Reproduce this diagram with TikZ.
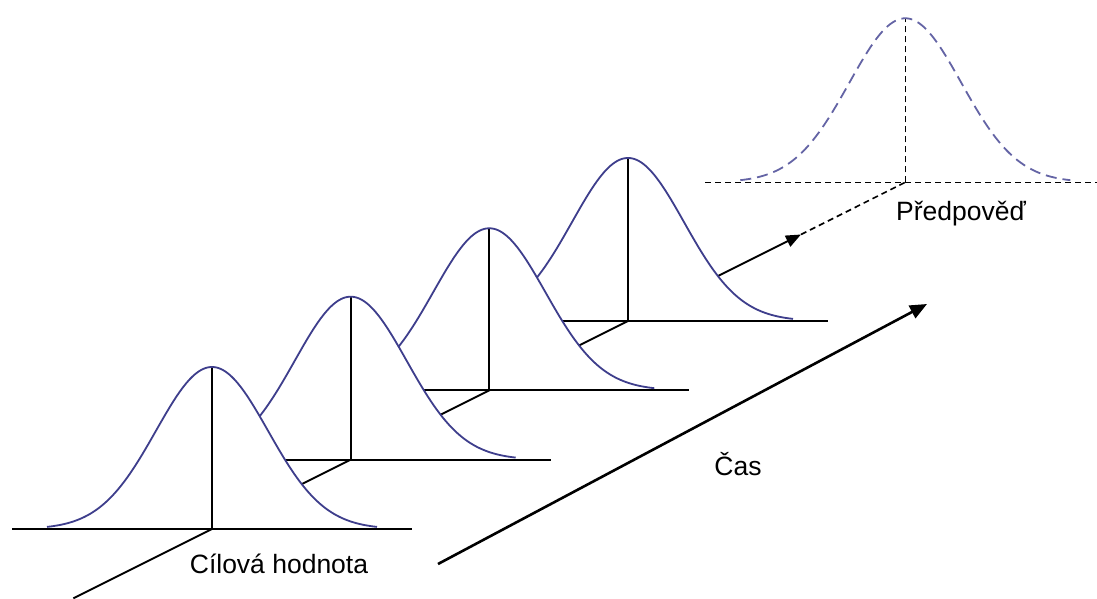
\documentclass[tikz,border=0pt]{standalone}
\usepackage{fontspec}
\setmainfont{Liberation Sans}
\usetikzlibrary{arrows.meta}
\definecolor{curveblue}{RGB}{62,62,140}
\definecolor{predblue}{RGB}{100,100,165}
\begin{document}
\begin{tikzpicture}[x=1pt,y=-1pt,
  gcurve/.style={draw=curveblue,line width=1.8pt},
  gline/.style={draw=black,line width=1.7pt},
  predcurve/.style={draw=predblue,line width=1.8pt,dash pattern=on 11pt off 6pt},
  predline/.style={draw=black,line width=1.6pt,dash pattern=on 6pt off 4pt},
  axisline/.style={draw=black,line width=1.9pt},
  bigarrow/.style={draw=black,line width=2.6pt,-{Triangle[length=17pt,width=14pt]}},
  lbl/.style={font=\fontsize{26.5}{30}\selectfont,inner sep=0pt,anchor=base}]
\useasboundingbox (0,0) rectangle (1097,599);
\fill[white] (0,0) rectangle (1097,599);
% centres along the time axis
\coordinate (c0) at (73.3,598.3);
\coordinate (c1) at (212,529);
\coordinate (c2) at (350.7,459.7);
\coordinate (c3) at (489.3,390.3);
\coordinate (c4) at (628,321);
\coordinate (tip) at (801,234.5);
\coordinate (c5) at (905.3,182.3);
\coordinate (p5) at (905.3,18.3);
\coordinate (bs) at (438,564);
\coordinate (be) at (927,304);
% time axis
\draw[axisline,-{Triangle[length=15pt,width=12pt]}] (c0) -- (tip);
\draw[predline] (tip) -- (c5);
% predicted distribution
\draw[predline] (705,182.3) -- (1105,182.3);
\draw[predline] (c5) -- (p5);
\draw[predcurve] plot[domain=-165:165,samples=120] ({905.3+\x},{182.3-164*exp(-0.5*(\x/56)^2)});
% distributions, back to front
\foreach \cx/\by/\h in {628/321/163, 489.3/390.3/162, 350.7/459.7/163, 212/529/162}{
  \fill[white] plot[domain=-200:200,samples=160] ({\cx+\x},{\by-\h*exp(-0.5*(\x/56)^2)}) -- cycle;
  \draw[gline] (\cx-200,\by) -- (\cx+200,\by);
  \draw[gline] (\cx,\by) -- ++(0,-\h);
  \draw[gcurve] plot[domain=-165:165,samples=160] ({\cx+\x},{\by-\h*exp(-0.5*(\x/56)^2)});
}
% time arrow
\draw[bigarrow] (bs) -- (be);
% labels
\node[lbl] (target) at (279,573) {Cílová hodnota};
\node[lbl] (time) at (738,475) {Čas};
\node[lbl] (forecast) at (961,220) {Předpověď};
\end{tikzpicture}
\end{document}
